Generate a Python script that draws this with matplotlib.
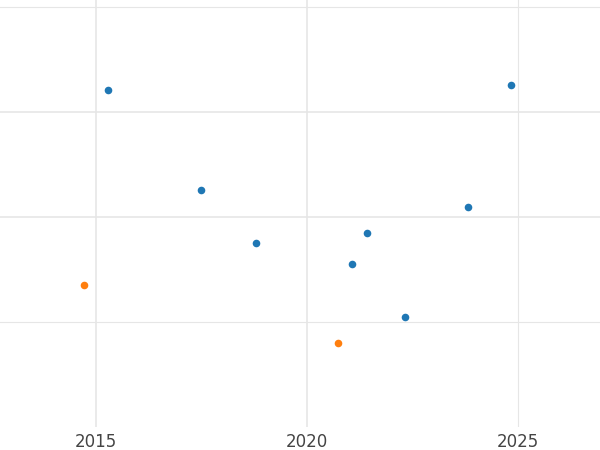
import matplotlib
matplotlib.use("Agg")
import matplotlib.pyplot as plt

blue_x = [2015.28, 2017.49, 2018.79, 2021.07, 2021.42, 2022.32, 2023.82, 2024.83]
blue_y = [3.21, 2.26, 1.75, 1.55, 1.85, 1.05, 2.10, 3.26]
orange_x = [2014.72, 2020.73]
orange_y = [1.35, 0.80]
xticks = [2015, 2020, 2025]

fig = plt.figure(figsize=(6, 4.5), dpi=100)
ax = fig.add_axes([0, 0.051, 1, 0.949])
ax.set_xlim(2012.72, 2026.94)
ax.set_ylim(0, 4.07)
for v in [1, 2, 3, 4]:
    ax.axhline(v, color="#e6e6e6", lw=1.2 if v in (2, 3) else 0.8, zorder=0)
for v in xticks:
    ax.axvline(v, color="#e6e6e6", lw=1.2 if v != 2025 else 0.8, zorder=0)
ax.scatter(blue_x, blue_y, s=30, color="#1f77b4", zorder=3, linewidths=0)
ax.scatter(orange_x, orange_y, s=30, color="#ff7f0e", zorder=3, linewidths=0)
ax.set_xticks(xticks)
ax.set_xticklabels([str(t) for t in xticks], fontsize=12, color="#444444")
ax.set_yticks([])
ax.tick_params(axis="x", length=0, pad=4)
for s in ax.spines.values():
    s.set_visible(False)
fig.savefig("out.png", dpi=100)
